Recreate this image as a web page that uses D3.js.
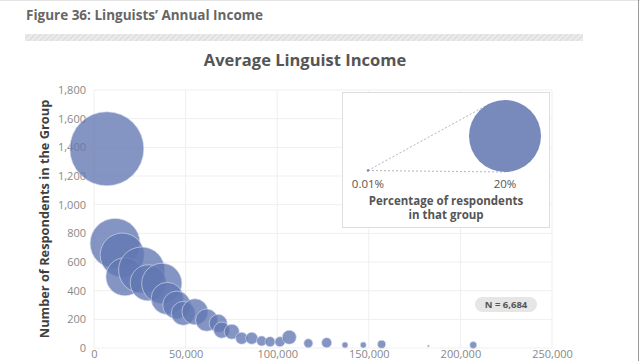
<!DOCTYPE html>
<html><head><meta charset="utf-8">
<script src="https://cdn.jsdelivr.net/npm/d3@7"></script>
<style>body{margin:0;background:#fff;font-family:"Open Sans",sans-serif;}</style>
</head><body>
<svg id="c" width="640" height="361"></svg>
<script>
// Data
const incomes = [7000, 11500, 15400, 16900, 26000, 29600, 37000, 40000, 45100, 48700, 55100, 61500, 67800, 69700, 75200, 80600, 86100, 91500, 96100, 101500, 106600, 117000, 127000, 137000, 147000, 157000, 182500, 207000];
const respondents = [1390, 730, 648, 497, 544, 455, 451, 346, 300, 242, 253, 195, 172, 125, 114, 68, 68, 49, 44, 44, 75, 33, 37, 21, 21, 26, 14, 21];
const shares = [21.1, 9.6, 7.5, 5.6, 8.2, 5.0, 6.2, 4.0, 3.0, 2.2, 2.6, 1.9, 1.25, 1.0, 0.87, 0.56, 0.56, 0.39, 0.39, 0.39, 0.76, 0.31, 0.39, 0.14, 0.14, 0.25, 0.015, 0.19];
const xTicks = [0, 50000, 100000, 150000, 200000, 250000];
const yTicks = [0, 200, 400, 600, 800, 1000, 1200, 1400, 1600, 1800];
const legendShares = [0.01, 20];
const totalN = "6,684";

const svg = d3.select("#c");
const L = 94, R = 552, T = 90, B = 348;
const x = d3.scaleLinear().domain([0, 250000]).range([L, R]);
const y = d3.scaleLinear().domain([0, 1800]).range([B, T]);
const r = d3.scaleSqrt().domain([0, 20]).range([0, 36]);
const fmt = d3.format(",");

// page decorations
svg.append("line").attr("x1",0).attr("x2",640).attr("y1",0.5).attr("y2",0.5).attr("stroke","#e4e4e4");
svg.append("line").attr("x1",638.5).attr("x2",638.5).attr("y1",0).attr("y2",361).attr("stroke","#9a9a9a").attr("stroke-width",1);
const defs = svg.append("defs");
const pat = defs.append("pattern").attr("id","hatch").attr("width",4).attr("height",4)
  .attr("patternUnits","userSpaceOnUse").attr("patternTransform","rotate(45)");
pat.append("rect").attr("width",4).attr("height",4).attr("fill","#ececec");
pat.append("rect").attr("width",2).attr("height",4).attr("fill","#e0e0e0");
svg.append("rect").attr("x",25).attr("y",34).attr("width",558).attr("height",7).attr("fill","url(#hatch)");

svg.append("text").attr("x",26).attr("y",20).attr("font-size",13.5).attr("font-weight",700)
  .attr("fill","#666").text("Figure 36: Linguists’ Annual Income");
svg.append("text").attr("x",305).attr("y",66).attr("text-anchor","middle").attr("font-size",16.5)
  .attr("font-weight",700).attr("fill","#555").text("Average Linguist Income");

// grid
svg.append("g").selectAll("line").data(xTicks).join("line")
  .attr("x1",d=>x(d)).attr("x2",d=>x(d)).attr("y1",T).attr("y2",B).attr("stroke","#efefef");
svg.append("g").selectAll("line").data(yTicks).join("line")
  .attr("x1",L).attr("x2",R).attr("y1",d=>y(d)).attr("y2",d=>y(d)).attr("stroke","#efefef");

// axes
const ya = svg.append("g").attr("transform",`translate(${L},0)`)
  .call(d3.axisLeft(y).tickValues(yTicks).tickFormat(fmt).tickSize(0).tickPadding(8));
ya.select(".domain").remove();
ya.selectAll("text").attr("font-family","Open Sans").attr("font-size",11).attr("fill","#888");
const xa = svg.append("g").attr("transform",`translate(0,${B})`)
  .call(d3.axisBottom(x).tickValues(xTicks).tickFormat(fmt).tickSize(0).tickPadding(2));
xa.select(".domain").remove();
xa.selectAll("text").attr("font-family","Open Sans").attr("font-size",11).attr("fill","#888");

svg.append("text").attr("transform",`translate(49,219) rotate(-90)`).attr("text-anchor","middle")
  .attr("font-size",12.8).attr("font-weight",700).attr("fill","#3f3f3f")
  .text("Number of Respondents in the Group");

// bubbles
const data = incomes.map((v,i)=>({x:v, y:respondents[i], s:shares[i]}));
svg.append("g").selectAll("circle").data(data).join("circle")
  .attr("cx",d=>x(d.x)).attr("cy",d=>y(d.y)).attr("r",d=>Math.max(1,r(d.s)))
  .attr("fill","#6177b2").attr("fill-opacity",0.78)
  .attr("stroke","#d6dcee").attr("stroke-width",0.8).attr("stroke-opacity",0.8);

// legend
const lg = svg.append("g");
lg.append("rect").attr("x",342.5).attr("y",92.5).attr("width",207).attr("height",135)
  .attr("fill","#fff").attr("stroke","#dedede");
const lx0 = 368, lx1 = 505, lcy = 136, lby = 172;
const rBig = r(legendShares[1]);
lg.append("line").attr("x1",lx0).attr("y1",lby-1.5).attr("x2",lx1).attr("y2",lby)
  .attr("stroke","#b5b5b5").attr("stroke-dasharray","2,2");
lg.append("line").attr("x1",lx0).attr("y1",lby-1.5).attr("x2",lx1-16).attr("y2",lcy-rBig+4)
  .attr("stroke","#b5b5b5").attr("stroke-dasharray","2,2");
lg.append("circle").attr("cx",lx0).attr("cy",lby-1.5).attr("r",Math.max(1.2,r(legendShares[0]))).attr("fill","#7184b8");
lg.append("circle").attr("cx",lx1).attr("cy",lcy).attr("r",rBig).attr("fill","#7184b8").attr("fill-opacity",0.95);
lg.append("text").attr("x",lx0).attr("y",188).attr("text-anchor","middle").attr("font-size",11.5).attr("fill","#555").text("0.01%");
lg.append("text").attr("x",lx1).attr("y",188).attr("text-anchor","middle").attr("font-size",11.5).attr("fill","#555").text("20%");
lg.append("text").attr("x",446).attr("y",205).attr("text-anchor","middle").attr("font-size",11.5).attr("font-weight",700).attr("fill","#555").text("Percentage of respondents");
lg.append("text").attr("x",446).attr("y",219).attr("text-anchor","middle").attr("font-size",11.5).attr("font-weight",700).attr("fill","#555").text("in that group");

// N label
svg.append("rect").attr("x",475).attr("y",297).attr("width",62).attr("height",15).attr("rx",7.5)
  .attr("fill","#e6e6e6");
svg.append("text").attr("x",506).attr("y",308).attr("text-anchor","middle").attr("font-size",9.5)
  .attr("font-weight",700).attr("fill","#555").text("N = " + totalN);
</script>
</body></html>
